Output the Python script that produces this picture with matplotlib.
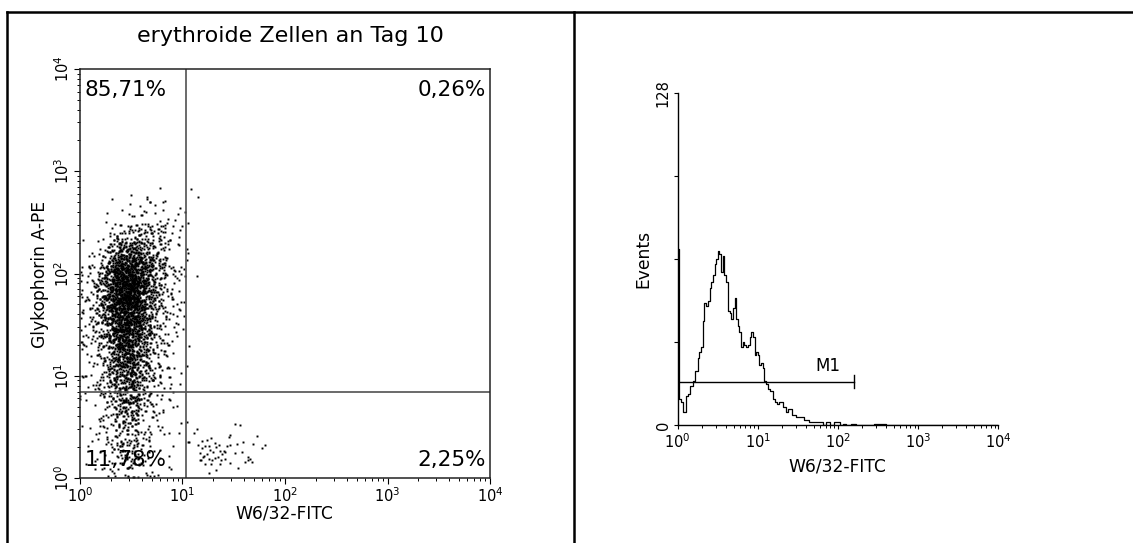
import numpy as np
import matplotlib.pyplot as plt
from matplotlib.lines import Line2D
from matplotlib.ticker import FixedLocator, FuncFormatter, NullFormatter

plt.rcParams['font.family'] = ['DejaVu Sans']
plt.rcParams['mathtext.fontset'] = 'dejavusans'

# ---- dot plot data (log10 decades) ----
# cell grid for the dense population: left edges in x, bottom edges in y (top row first)
cell_x = [0.0, 0.1, 0.2, 0.3, 0.4, 0.5, 0.6, 0.7, 0.8, 0.9]
cell_y = [2.6, 2.4, 2.2, 2.0, 1.8, 1.6, 1.4, 1.2, 1.0, 0.8, 0.6, 0.4, 0.2, 0.0]
cell_counts = [
    [0, 0, 0, 1, 1, 2, 3, 3, 2, 1],
    [0, 0, 1, 3, 5, 7, 8, 7, 5, 3],
    [1, 3, 8, 20, 35, 40, 30, 18, 10, 5],
    [4, 10, 30, 80, 120, 110, 60, 30, 14, 7],
    [7, 16, 50, 130, 170, 140, 70, 30, 13, 6],
    [8, 18, 50, 125, 160, 125, 60, 25, 11, 5],
    [7, 15, 40, 100, 130, 100, 48, 20, 9, 4],
    [6, 12, 30, 75, 105, 80, 35, 15, 7, 3],
    [5, 10, 22, 55, 80, 62, 26, 11, 6, 3],
    [3, 7, 15, 38, 58, 46, 18, 8, 4, 2],
    [2, 5, 10, 24, 38, 32, 12, 6, 3, 2],
    [1, 3, 7, 17, 28, 24, 9, 4, 2, 2],
    [1, 2, 6, 13, 22, 18, 7, 3, 2, 1],
    [1, 2, 5, 10, 17, 14, 6, 3, 1, 1],
]

# single events outside the main population (log10 decades)
upper_right_x = [1.08, 1.15, 1.05, 1.05, 1.14, 1.06, 1.02]
upper_right_y = [2.83, 2.75, 2.49, 2.20, 1.98, 1.29, 2.60]

lower_right_x = [1.14, 1.11, 1.06, 1.19, 1.24, 1.28, 1.32, 1.36, 1.45, 1.46, 1.51, 1.56,
                 1.53, 1.59, 1.73, 1.69, 1.80, 1.78, 1.19, 1.22, 1.27, 1.30, 1.33, 1.37,
                 1.41, 1.43, 1.46, 1.17, 1.20, 1.24, 1.26, 1.29, 1.32, 1.35, 1.38, 1.41,
                 1.46, 1.51, 1.58, 1.64, 1.66, 1.61, 1.68, 1.18, 1.22, 1.28, 1.37, 1.40,
                 1.39, 1.15, 1.26, 1.64, 1.54, 1.33, 1.26, 1.17, 1.21, 1.05, 1.04]
lower_right_y = [0.48, 0.44, 0.35, 0.36, 0.37, 0.39, 0.34, 0.32, 0.40, 0.42, 0.53, 0.52,
                 0.33, 0.35, 0.41, 0.33, 0.32, 0.29, 0.29, 0.31, 0.27, 0.25, 0.30, 0.26,
                 0.25, 0.31, 0.32, 0.24, 0.21, 0.23, 0.19, 0.18, 0.20, 0.21, 0.18, 0.19,
                 0.15, 0.24, 0.25, 0.21, 0.19, 0.16, 0.16, 0.18, 0.14, 0.14, 0.14, 0.26,
                 0.23, 0.32, 0.31, 0.18, 0.10, 0.08, 0.05, 0.18, 0.22, 0.35, 0.55]

quad_x = 10.8
quad_y = 6.9
quad_labels = ['85,71%', '0,26%', '11,78%', '2,25%']

# ---- histogram data (log10 channel position, events) ----
hist_log = [0.000, 0.0125, 0.04, 0.07, 0.10, 0.13, 0.16, 0.19, 0.22, 0.25,
            0.27, 0.29, 0.31, 0.33, 0.35, 0.375, 0.40, 0.42, 0.44, 0.46,
            0.48, 0.50, 0.52, 0.54, 0.56, 0.58, 0.60, 0.625, 0.65, 0.67,
            0.69, 0.71, 0.73, 0.75, 0.77, 0.79, 0.81, 0.83, 0.85, 0.875,
            0.90, 0.92, 0.94, 0.96, 0.98, 1.00, 1.02, 1.04, 1.06, 1.08,
            1.10, 1.125, 1.15, 1.17, 1.19, 1.21, 1.24, 1.27, 1.31, 1.35,
            1.38, 1.42, 1.45, 1.48, 1.51, 1.54, 1.57, 1.60, 1.64, 1.69,
            1.73, 1.77, 1.81, 1.85, 1.90, 1.95, 2.02, 2.06, 2.10, 2.16,
            2.22, 2.30, 2.45, 2.60, 2.75, 2.90, 3.10, 3.30, 3.50, 4.00]
hist_counts = [68, 10, 9, 5, 11, 12, 15, 17, 21, 26,
               28, 30, 40, 47, 46, 48, 53, 55, 58, 62,
               64, 67, 66, 59, 65, 58, 55, 44, 43, 41,
               45, 49, 41, 38, 36, 30, 32, 31, 30, 31,
               34, 36, 34, 27, 28, 27, 23, 24, 22, 17,
               16, 14, 13, 13, 10, 9, 8, 9, 7, 5,
               6, 4, 4, 3, 3, 3, 2, 2, 1, 1,
               1, 1, 0, 1, 0, 1, 0, 0.5, 0, 0.5,
               0, 0, 0.5, 0, 0, 0, 0, 0, 0, 0]
m1_range = [1, 156]
m1_level = 16.6

# ---- spread the cell counts into dots (tent kernel around each cell centre) ----
def frac(a):
    return a % 1.0

dots_x, dots_y = [], []
g = 0
for r, y0 in enumerate(cell_y):
    for c, x0 in enumerate(cell_x):
        for k in range(cell_counts[r][c]):
            g += 1
            u = frac(g * g * 0.7071067812 + g * 0.3183098862) + frac(g * g * 0.4142135624 + g * 0.1234567891)
            v = frac(g * g * 0.5773502692 + g * 0.7548776662) + frac(g * g * 0.2360679775 + g * 0.5698402910)
            xx = x0 + 0.05 + (u - 1.0) * 0.1
            yy = y0 + 0.1 + (v - 1.0) * 0.2
            dots_x.append(abs(xx) + 0.004)
            dots_y.append(abs(yy) + 0.004)
dots_x = dots_x + upper_right_x + lower_right_x
dots_y = dots_y + upper_right_y + lower_right_y

fig = plt.figure(figsize=(11.33, 5.43), dpi=100)

def dec_label(v, pos):
    return r'$10^{%d}$' % round(np.log10(v))

# ---- left: dot plot ----
ax = fig.add_axes([0.0706, 0.1197, 0.3619, 0.7532])
ax.set_xscale('log')
ax.set_yscale('log')
ax.plot(10 ** np.array(dots_x), 10 ** np.array(dots_y), 's', ms=1.4, mew=0, color='black')
ax.set_xlim(1, 1e4)
ax.set_ylim(1, 1e4)
ax.axvline(quad_x, color='#505050', lw=1.2)
ax.axhline(quad_y, color='#505050', lw=1.2)
for a in (ax.xaxis, ax.yaxis):
    a.set_major_locator(FixedLocator([1, 10, 100, 1000, 10000]))
    a.set_major_formatter(FuncFormatter(dec_label))
    a.set_minor_locator(FixedLocator([m * 10 ** d for d in range(4) for m in range(2, 10)]))
    a.set_minor_formatter(NullFormatter())
ax.tick_params(which='major', direction='out', length=4, width=0.8, labelsize=10.5, pad=2)
ax.tick_params(which='minor', direction='out', length=2.2, width=0.7)
for lab in ax.get_yticklabels():
    lab.set_rotation(90)
    lab.set_va('center')
for s in ax.spines.values():
    s.set_linewidth(1.1)
    s.set_color('#222222')

ax.text(0.012, 0.949, quad_labels[0], transform=ax.transAxes, ha='left', va='center', fontsize=15.5)
ax.text(0.989, 0.949, quad_labels[1], transform=ax.transAxes, ha='right', va='center', fontsize=15.5)
ax.text(0.012, 0.044, quad_labels[2], transform=ax.transAxes, ha='left', va='center', fontsize=15.5)
ax.text(0.989, 0.044, quad_labels[3], transform=ax.transAxes, ha='right', va='center', fontsize=15.5)

fig.text(0.256, 0.934, 'erythroide Zellen an Tag 10', ha='center', va='center', fontsize=16)
fig.text(0.0353, 0.4954, 'Glykophorin A-PE', rotation=90, ha='center', va='center', fontsize=12.3)
fig.text(0.251, 0.055, 'W6/32-FITC', ha='center', va='center', fontsize=12.3)

# ---- right: histogram ----
ax2 = fig.add_axes([0.5981, 0.2173, 0.2831, 0.6114])
ax2.set_xscale('log')
ax2.plot(10 ** np.array(hist_log), hist_counts, drawstyle='steps-post', color='black', lw=0.9)
ax2.plot(m1_range, [m1_level, m1_level], color='black', lw=1.0)
ax2.plot([m1_range[1], m1_range[1]], [m1_level - 2.5, m1_level + 2.5], color='black', lw=1.0)
ax2.text(74, m1_level + 6, 'M1', ha='center', va='center', fontsize=12)
ax2.set_xlim(1, 1e4)
ax2.set_ylim(0, 128)
ax2.spines['top'].set_visible(False)
ax2.spines['right'].set_visible(False)
ax2.xaxis.set_major_locator(FixedLocator([1, 10, 100, 1000, 10000]))
ax2.xaxis.set_major_formatter(FuncFormatter(dec_label))
ax2.xaxis.set_minor_locator(FixedLocator([m * 10 ** d for d in range(4) for m in range(2, 10)]))
ax2.xaxis.set_minor_formatter(NullFormatter())
ax2.yaxis.set_major_locator(FixedLocator([0, 32, 64, 96, 128]))
ax2.yaxis.set_major_formatter(FuncFormatter(lambda v, p: '%d' % v if v in (0, 128) else ''))
ax2.tick_params(which='major', direction='out', length=3, width=0.8, labelsize=10.5, pad=2)
ax2.tick_params(which='minor', direction='out', length=2, width=0.7)
for lab in ax2.get_yticklabels():
    lab.set_rotation(90)
    lab.set_va('center')
for s in ax2.spines.values():
    s.set_linewidth(1.0)
fig.text(0.568, 0.523, 'Events', rotation=90, ha='center', va='center', fontsize=12.3)
fig.text(0.739, 0.140, 'W6/32-FITC', ha='center', va='center', fontsize=12.3)

# ---- table borders ----
fig.add_artist(Line2D([0.0064, 1.0], [0.9785, 0.9785], color='black', lw=1.8))
fig.add_artist(Line2D([0.0064, 0.0064], [0.0, 0.9785], color='black', lw=1.8))
fig.add_artist(Line2D([0.5066, 0.5066], [0.0, 0.9785], color='black', lw=1.8))

fig.savefig('out.png', dpi=100)
